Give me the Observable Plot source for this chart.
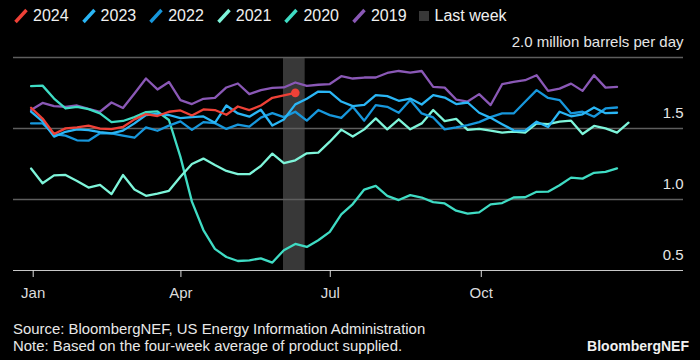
<!DOCTYPE html>
<html><head><meta charset="utf-8">
<script src="https://cdn.jsdelivr.net/npm/d3@7"></script>
<script src="https://cdn.jsdelivr.net/npm/@observablehq/plot@0.6"></script>
<style>
html,body{margin:0;padding:0;background:#000;}
#wrap{position:relative;width:700px;height:360px;background:#000;font-family:"Liberation Sans",Arial,sans-serif;color:#e8e8e8;overflow:hidden;}
#legend{position:absolute;left:13px;top:0;height:32px;display:flex;align-items:center;font-size:16px;color:#f0f0f0;white-space:nowrap;}
.item{display:flex;align-items:center;margin-right:12px;}
.item svg{display:block;margin-right:4px;}
.sq{display:inline-block;width:10px;height:10px;background:#3c3c3c;margin-right:6px;}
#chart{position:absolute;left:0;top:30px;}
#foot{position:absolute;left:13px;top:320.5px;font-size:14.9px;line-height:17px;color:#e8e8e8;}
#brand{position:absolute;right:11px;top:337.5px;font-size:14px;font-weight:bold;line-height:17px;color:#f0f0f0;}
</style></head><body>
<div id="wrap">
<div id="legend"></div>
<div id="chart"></div>
<div id="foot">Source: BloombergNEF, US Energy Information Administration<br>Note: Based on the four-week average of product supplied.</div>
<div id="brand">BloombergNEF</div>
</div>
<script>
const years = ["2024", "2023", "2022", "2021", "2020", "2019"];
const colors = ["#ee4137", "#2ab6f5", "#1797dc", "#7ef5da", "#3fdcc4", "#8a58b6"];
const bandLabel = "Last week";
const bandColor = "#383838";

const v2024 = [1.646, 1.57, 1.461, 1.501, 1.508, 1.520, 1.499, 1.496, 1.511, 1.564, 1.602, 1.588, 1.618, 1.627, 1.592, 1.634, 1.630, 1.597, 1.655, 1.630, 1.662, 1.716, 1.733, 1.751];
const v2023 = [1.618, 1.55, 1.443, 1.477, 1.494, 1.489, 1.475, 1.465, 1.485, 1.536, 1.595, 1.602, 1.595, 1.573, 1.580, 1.585, 1.54, 1.662, 1.606, 1.583, 1.632, 1.521, 1.563, 1.670, 1.709, 1.76, 1.758, 1.69, 1.658, 1.667, 1.735, 1.728, 1.695, 1.711, 1.669, 1.735, 1.718, 1.672, 1.683, 1.611, 1.575, 1.53, 1.487, 1.485, 1.548, 1.51, 1.618, 1.586, 1.60, 1.648, 1.608, 1.611];
const v2022 = [1.536, 1.536, 1.46, 1.45, 1.417, 1.414, 1.466, 1.465, 1.45, 1.435, 1.508, 1.484, 1.52, 1.55, 1.49, 1.545, 1.538, 1.497, 1.527, 1.513, 1.577, 1.608, 1.58, 1.618, 1.556, 1.63, 1.594, 1.575, 1.653, 1.555, 1.665, 1.653, 1.611, 1.700, 1.606, 1.578, 1.494, 1.508, 1.524, 1.545, 1.58, 1.606, 1.606, 1.688, 1.770, 1.715, 1.70, 1.606, 1.618, 1.583, 1.641, 1.648];
const v2021 = [1.218, 1.114, 1.17, 1.173, 1.131, 1.084, 1.103, 1.038, 1.172, 1.07, 1.026, 1.042, 1.061, 1.16, 1.25, 1.288, 1.243, 1.201, 1.178, 1.178, 1.236, 1.323, 1.256, 1.276, 1.325, 1.33, 1.407, 1.492, 1.443, 1.494, 1.571, 1.494, 1.565, 1.494, 1.536, 1.630, 1.552, 1.568, 1.49, 1.497, 1.485, 1.471, 1.478, 1.471, 1.536, 1.531, 1.548, 1.555, 1.461, 1.518, 1.501, 1.471, 1.541];
const v2020 = [1.798, 1.802, 1.711, 1.641, 1.653, 1.636, 1.606, 1.545, 1.553, 1.58, 1.615, 1.62, 1.56, 1.30, 0.985, 0.785, 0.652, 0.595, 0.567, 0.572, 0.585, 0.556, 0.643, 0.687, 0.666, 0.713, 0.772, 0.895, 0.968, 1.07, 1.096, 1.026, 0.996, 1.031, 1.014, 0.982, 0.972, 0.921, 0.900, 0.909, 0.966, 0.975, 1.014, 1.016, 1.054, 1.055, 1.100, 1.154, 1.147, 1.188, 1.194, 1.219];
const v2019 = [1.630, 1.680, 1.658, 1.653, 1.662, 1.639, 1.618, 1.683, 1.644, 1.747, 1.852, 1.775, 1.828, 1.700, 1.672, 1.709, 1.716, 1.789, 1.817, 1.742, 1.770, 1.786, 1.789, 1.824, 1.800, 1.808, 1.813, 1.868, 1.852, 1.859, 1.859, 1.891, 1.905, 1.894, 1.905, 1.793, 1.788, 1.704, 1.690, 1.742, 1.665, 1.812, 1.828, 1.840, 1.875, 1.765, 1.781, 1.816, 1.765, 1.875, 1.788, 1.793];

// day of year of first weekly reading; readings are weekly
const firstWeekDay = -1.3;
const monthDays = [0, 90, 181, 273];
const monthLabels = ["Jan", "Apr", "Jul", "Oct"];
const yTicks = [0.5, 1.0, 1.5, 2.0];
const yTickLabels = ["0.5", "1.0", "1.5", "2.0 million barrels per day"];
const lastWeek = [152.5, 165.7];

const seriesValues = {"2024": v2024, "2023": v2023, "2022": v2022, "2021": v2021, "2020": v2020, "2019": v2019};
const toRows = (yr) => seriesValues[yr].map((v, i) => ({year: yr, day: firstWeekDay + 7 * i, value: v}));

// legend
const legend = document.getElementById("legend");
years.forEach((yr, k) => {
  const it = document.createElement("div");
  it.className = "item";
  it.innerHTML = `<svg width="16" height="16"><line x1="2.5" y1="14" x2="13.5" y2="2" stroke="${colors[k]}" stroke-width="3.4"/></svg><span>${yr}</span>`;
  legend.appendChild(it);
});
const lw = document.createElement("div");
lw.className = "item";
lw.innerHTML = `<span class="sq" style="background:${bandColor}"></span><span>${bandLabel}</span>`;
legend.appendChild(lw);

const drawOrder = ["2019", "2020", "2021", "2022", "2023", "2024"];
const lineMarks = drawOrder.map(yr => Plot.line(toRows(yr), {
  x: "day", y: "value", stroke: colors[years.indexOf(yr)], strokeWidth: 2.3,
  strokeLinejoin: "round", strokeLinecap: "round"
}));
const last2024 = toRows("2024").slice(-1);

const chart = Plot.plot({
  width: 700, height: 280,
  marginTop: 27, marginBottom: 40, marginLeft: 13, marginRight: 17,
  x: {domain: [-12, 396.2]},
  y: {domain: [0.5, 2.0], axis: null},
  style: {background: "#000", color: "#e6e6e6", fontFamily: "Liberation Sans, Arial, sans-serif", fontSize: "15px", overflow: "visible"},
  marks: [
    Plot.rect([lastWeek], {x1: d => d[0], x2: d => d[1], y1: 0.5, y2: 2.0, fill: bandColor}),
    Plot.ruleY(yTicks.slice(1), {stroke: "#5e5e5e", strokeWidth: 1.3}),
    Plot.ruleY([0.5], {stroke: "#c8c8c8", strokeWidth: 1.2}),
    Plot.text(yTicks, {y: d => d, text: (d, i) => yTickLabels[i], frameAnchor: "right", textAnchor: "end", lineAnchor: "middle", dy: -15, fill: "#e6e6e6", fontSize: 15}),
    Plot.axisX(monthDays, {tickSize: 7, tickPadding: 9.5, tickFormat: d => monthLabels[monthDays.indexOf(d)], fontSize: 15, color: "#dcdcdc", label: null}),
    ...lineMarks,
    Plot.dot(last2024, {x: "day", y: "value", r: 4.3, fill: colors[0], stroke: null})
  ]
});
document.getElementById("chart").appendChild(chart);
</script>
</body></html>
